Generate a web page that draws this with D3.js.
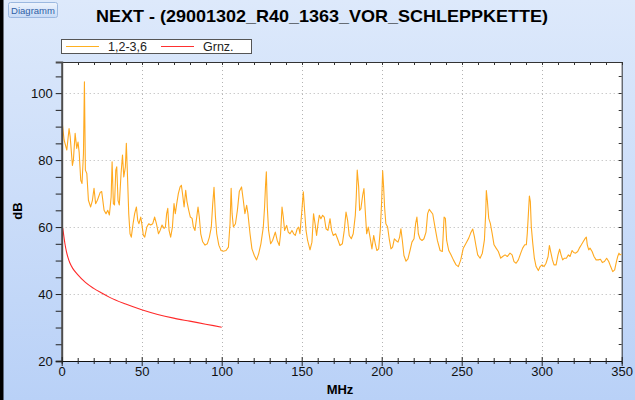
<!DOCTYPE html>
<html>
<head>
<meta charset="utf-8">
<script src="https://cdn.jsdelivr.net/npm/d3@7"></script>
<style>
  body { margin: 0; padding: 0; overflow: hidden; }
  svg { display: block; font-family: "Liberation Sans", Arial, sans-serif; }
</style>
</head>
<body>
<div id="chart"></div>
<script>
var width = 635;
var height = 400;

// measured curve 1,2-3,6 (MHz / dB)
var nextFreq = [0.5, 1.5, 3.2, 4.6, 5.3, 6.7, 7.3, 8.4, 9.4, 10.2, 10.9, 11.9, 12.7, 13.6, 14.2, 14.8, 15.7, 16.7, 18.1, 19.2,
  20.2, 21.2, 22.3, 24, 25, 26.5, 27.7, 28.8, 29.8, 30.9, 31.5, 32.3, 33, 33.8, 34.4, 35.2, 36, 37.1, 38, 38.8,
  39.8, 40.4, 41, 41.9, 42.7, 43.5, 44.6, 45.6, 46.7, 47.5, 48.3, 49.4, 50.2, 51, 51.9, 53.2, 54.4, 55.6, 56.9, 58.1,
  59.2, 60.5, 61.5, 62.7, 64, 64.8, 65.6, 66.3, 67.1, 68.1, 69.2, 70.2, 71, 71.9, 72.9, 74, 74.8, 75.6, 76.5, 77.5,
  78.3, 79.4, 80.4, 81.5, 82.3, 83.3, 84.4, 85.2, 86, 86.9, 88.1, 89.6, 91, 92.3, 93.5, 94.4, 95.2, 96.1, 96.9, 98.2,
  99.6, 101, 102.7, 104.2, 105.2, 105.9, 106.5, 107.3, 108.6, 109.8, 111, 112.4, 113.5, 114.5, 115.6, 116.4, 117.7, 118.9, 120.4, 121.8,
  123.1, 124.5, 126, 126.8, 127.4, 127.9, 128.5, 129.3, 130.6, 131.8, 133.5, 134.7, 136, 136.8, 137.7, 138.5, 139.3, 140.6, 141.6, 142.7,
  143.9, 145, 146, 147.2, 148.1, 148.9, 150.2, 151, 151.8, 152.7, 153.7, 155.2, 156.4, 157.4, 158.5, 159.3, 160.2, 161, 162, 163.1,
  164.1, 165.2, 166.4, 167.7, 168.7, 169.7, 171.2, 172.4, 173.9, 175.4, 176.6, 177.7, 178.7, 179.7, 181, 182.2, 183.5, 184.1, 184.7, 185.6,
  186.2, 187, 188.1, 188.9, 189.7, 190.6, 191.6, 192.7, 193.9, 195, 196, 197, 198.1, 199.1, 200, 200.6, 201.2, 201.8, 202.6, 203.7,
  204.7, 205.8, 206.8, 207.9, 208.9, 210.2, 211.2, 212, 212.9, 213.9, 215.2, 216.4, 217.7, 218.9, 220.2, 221.2, 222, 222.9, 223.9, 225.2,
  226.4, 227.7, 228.7, 229.7, 231.9, 233.3, 234.8, 236.5, 237.9, 239, 239.8, 240.6, 241.9, 243.3, 244.8, 246.5, 247.9, 249.4, 251, 252.7,
  254.4, 255.6, 256.9, 257.9, 259, 260, 261.5, 262.9, 264.2, 265, 265.4, 266, 266.9, 267.9, 269, 270.2, 271.5, 272.9, 274.4, 275.6,
  277.1, 278.5, 280.2, 281.5, 282.7, 284, 285.4, 286.9, 288.1, 289.4, 290.4, 291, 291.7, 292.3, 292.9, 293.5, 294.4, 295.4, 296.5, 297.9,
  299, 300.2, 301.5, 302.7, 304, 304.8, 305.6, 306.7, 307.7, 309, 310.2, 311.2, 312.1, 313.1, 314.2, 315.4, 316.7, 317.7, 319, 320,
  321.2, 322.5, 323.5, 324.8, 326, 327.3, 327.9, 328.5, 329.4, 330.2, 331.5, 332.7, 334, 335.4, 336.7, 337.9, 339.2, 340.6, 341.9, 343.1,
  344.4, 345.6, 346.7, 347.5, 348.3, 349, 350];
var nextDb = [90.4, 86, 83, 89.4, 87, 78.4, 80, 88, 83.5, 85.4, 82.4, 74, 73, 82, 103.4, 77, 76, 68, 66, 68,
  71.6, 67, 68, 70.3, 70.6, 65, 64, 65, 63.6, 69, 79.5, 67, 66.6, 77, 78, 68, 66.6, 76, 81.5, 75,
  78, 85, 77, 64, 58, 57, 61, 64, 66, 62, 61, 63, 60.6, 57.6, 57, 60, 61, 60.6, 61, 63,
  61, 58, 59, 60.6, 59.6, 60, 64, 65.6, 59, 57, 60, 67, 64, 67, 70, 72, 72.5, 69.6, 66, 71,
  67.6, 65, 63, 62.6, 60, 59, 63, 66, 63, 58, 55.6, 54.6, 55, 57, 60, 67, 71.9, 63, 58, 54.6,
  53, 52.8, 53, 54, 61, 71.6, 64, 60, 61, 65, 70.6, 72, 68, 64, 66.5, 64, 58, 53.5, 51.5, 50.2,
  52, 55, 60, 66, 72.5, 76.5, 66, 59, 55, 56, 58.5, 56, 54.5, 58, 66, 63, 59, 60.5, 58.5, 58,
  59, 58, 57.5, 59.5, 60, 58, 65.5, 70.5, 65, 59, 56, 53.2, 55.5, 64, 60.5, 57.5, 61, 63.5, 62.5, 63.5,
  63, 59.5, 59, 62.5, 59, 57.5, 58, 56.5, 54.5, 55, 59, 64.5, 62, 57.5, 56.5, 58, 63.5, 69, 77, 72,
  65, 65.5, 69.5, 71.5, 65, 58, 60, 57, 53.5, 57.5, 55, 53, 53.5, 59, 68, 76.8, 72, 66, 61, 60,
  56.5, 53.5, 54, 56.5, 56, 55.5, 57, 59.5, 56, 51.5, 49.8, 50.5, 53, 55.5, 56.5, 61, 63, 58, 56.5, 56,
  56.5, 58.5, 64, 65.3, 63.9, 60, 56, 53, 52.7, 63, 62.6, 56, 53, 51.7, 50.2, 48.7, 48.2, 50.2, 53.7, 55.2,
  56.7, 58.2, 59.4, 57.2, 54.2, 51.7, 50.7, 52.2, 56.2, 64.1, 70.9, 68.1, 62.6, 61.1, 58.2, 54.7, 53.7, 52.7, 50.7, 51.2,
  51.7, 51.2, 52.2, 51.7, 49.7, 49.2, 50.2, 52.2, 53.7, 54.7, 54.7, 58.2, 64.1, 69.3, 67.6, 60.1, 55.2, 50.7, 48.2, 47,
  48.2, 48.7, 48.2, 49.2, 51.2, 54.5, 52.7, 50.2, 48.7, 48.7, 51.7, 53.4, 51.7, 50.2, 50.7, 50.7, 51.7, 51.2, 53, 52.4,
  52.2, 52.7, 53.7, 54.7, 55.7, 56.7, 57, 54.7, 53.2, 53.7, 52.7, 51.2, 50.2, 50.2, 50.4, 49.4, 49.7, 50.7, 49.7, 48.2,
  46.7, 47.2, 49.7, 51.2, 52.2, 51.7, 52];

// limit curve Grnz.
var limFreq = [0.6, 1, 2, 3, 4, 5, 7, 10, 15, 20, 25, 30, 40, 50, 60, 70, 80, 90, 100];
var limDb = [59.8, 58.5, 55.1, 52.6, 50.8, 49.4, 47.6, 45.8, 43.4, 41.7, 40.3, 39, 37, 35.3, 33.9, 32.8, 31.9, 31, 30.1];

var xLabels = [0, 50, 100, 150, 200, 250, 300, 350];
var yLabels = [20, 40, 60, 80, 100];
var legendNames = ["1,2-3,6", "Grnz."];
var chartTitle = "NEXT - (29001302_R40_1363_VOR_SCHLEPPKETTE)";

var plot = {left: 61.7, right: 621.7, top: 62, bottom: 361};

var x = d3.scaleLinear().domain([0, 350]).range([plot.left, plot.right]);
var y = d3.scaleLinear().domain([20, 109.3]).range([plot.bottom, plot.top]);

var svg = d3.select("#chart").append("svg")
    .attr("width", width)
    .attr("height", height);

var defs = svg.append("defs");
var bg = defs.append("linearGradient").attr("id", "bg")
    .attr("x1", 0).attr("y1", 0).attr("x2", 0).attr("y2", 1);
bg.append("stop").attr("offset", "0%").attr("stop-color", "#dde9fb");
bg.append("stop").attr("offset", "100%").attr("stop-color", "#b9d1f7");

var btn = defs.append("linearGradient").attr("id", "btn")
    .attr("x1", 0).attr("y1", 0).attr("x2", 0).attr("y2", 1);
btn.append("stop").attr("offset", "0%").attr("stop-color", "#eef4fd");
btn.append("stop").attr("offset", "100%").attr("stop-color", "#c7daf6");

defs.append("clipPath").attr("id", "clip")
  .append("rect")
    .attr("x", plot.left).attr("y", plot.top)
    .attr("width", plot.right - plot.left).attr("height", plot.bottom - plot.top);

svg.append("rect").attr("width", width).attr("height", height).attr("fill", "url(#bg)");
svg.append("rect").attr("width", 3.5).attr("height", height).attr("fill", "#000");

// Diagramm button
svg.append("rect")
    .attr("x", 8.5).attr("y", 2.5).attr("width", 49).attr("height", 15).attr("rx", 2)
    .attr("fill", "url(#btn)").attr("stroke", "#9bb8e0");
svg.append("text")
    .attr("x", 33).attr("y", 13.5)
    .attr("text-anchor", "middle")
    .attr("font-size", 9.5)
    .attr("fill", "#2f5fa6")
    .text("Diagramm");

svg.append("text")
    .attr("x", 96).attr("y", 22)
    .attr("font-size", 17)
    .attr("font-weight", "bold")
    .attr("fill", "#000")
    .attr("textLength", 452)
    .attr("lengthAdjust", "spacingAndGlyphs")
    .text(chartTitle);

// legend
var legend = svg.append("g");
legend.append("rect")
    .attr("x", 61.5).attr("y", 39.5).attr("width", 190).attr("height", 14)
    .attr("fill", "#fff").attr("stroke", "#555");
var legColors = ["#ffb020", "#ff3030"];
var legX = [66, 161];
legendNames.forEach(function (name, i) {
    legend.append("line")
        .attr("x1", legX[i]).attr("x2", legX[i] + 33)
        .attr("y1", 46.5).attr("y2", 46.5)
        .attr("stroke", legColors[i]).attr("stroke-width", 1);
    legend.append("text")
        .attr("x", legX[i] + 42).attr("y", 50.5)
        .attr("font-size", 12.5)
        .attr("fill", "#222")
        .text(name);
});

// plot area
svg.append("rect")
    .attr("x", plot.left).attr("y", plot.top)
    .attr("width", plot.right - plot.left).attr("height", plot.bottom - plot.top)
    .attr("fill", "#fff");

// grid
var grid = svg.append("g").attr("stroke", "#b4b4b4").attr("stroke-dasharray", "1,3");
xLabels.slice(1, -1).forEach(function (v) {
    grid.append("line")
        .attr("x1", Math.round(x(v)) + 0.5).attr("x2", Math.round(x(v)) + 0.5)
        .attr("y1", plot.top).attr("y2", plot.bottom);
});
yLabels.slice(1).forEach(function (v) {
    grid.append("line")
        .attr("x1", plot.left).attr("x2", plot.right)
        .attr("y1", Math.round(y(v)) + 0.5).attr("y2", Math.round(y(v)) + 0.5);
});

var minorY = d3.range(20, 109, 5);
var minorX = d3.range(0, 351, 10);

// top and right frame ticks
var frame = svg.append("g").attr("stroke", "#333").attr("stroke-width", 1);
minorX.forEach(function (v) {
    frame.append("line")
        .attr("x1", Math.round(x(v)) + 0.5).attr("x2", Math.round(x(v)) + 0.5)
        .attr("y1", plot.top).attr("y2", plot.top + 3);
});
minorY.forEach(function (v) {
    frame.append("line")
        .attr("x1", plot.right - 3).attr("x2", plot.right)
        .attr("y1", Math.round(y(v)) + 0.5).attr("y2", Math.round(y(v)) + 0.5);
});
frame.append("line").attr("x1", plot.left).attr("x2", plot.right + 0.5)
    .attr("y1", plot.top + 0.5).attr("y2", plot.top + 0.5);
frame.append("line").attr("x1", plot.right + 0.5).attr("x2", plot.right + 0.5)
    .attr("y1", plot.top).attr("y2", plot.bottom);

// curves
var lines = svg.append("g").attr("clip-path", "url(#clip)");
var nextLine = d3.line()
    .x(function (d, i) { return x(nextFreq[i]); })
    .y(function (d) { return y(d); });
lines.append("path")
    .attr("d", nextLine(nextDb))
    .attr("fill", "none")
    .attr("stroke", "#ffa91f")
    .attr("stroke-width", 1.1)
    .attr("stroke-linejoin", "round");

var limLine = d3.line()
    .curve(d3.curveMonotoneX)
    .x(function (d, i) { return x(limFreq[i]); })
    .y(function (d) { return y(d); });
lines.append("path")
    .attr("d", limLine(limDb))
    .attr("fill", "none")
    .attr("stroke", "#ff2a2a")
    .attr("stroke-width", 1.1);

// y axis
var yAxis = svg.append("g")
    .attr("transform", "translate(" + plot.left + ",0)")
    .call(d3.axisLeft(y).tickValues(minorY).tickSize(6)
        .tickFormat(function (d) { return yLabels.indexOf(d) >= 0 ? d : ""; }));
yAxis.select(".domain").attr("stroke", "#4d4d4d").attr("stroke-width", 2);
yAxis.selectAll(".tick line").attr("stroke", "#222");
yAxis.selectAll(".tick text")
    .attr("font-size", 13).attr("fill", "#111")
    .attr("font-family", "Liberation Sans, Arial, sans-serif")
    .attr("x", -9);

// x axis
var xAxis = svg.append("g")
    .attr("transform", "translate(0," + plot.bottom + ")")
    .call(d3.axisBottom(x).tickValues(minorX).tickSize(3)
        .tickFormat(function (d) { return xLabels.indexOf(d) >= 0 ? d : ""; }));
xAxis.select(".domain").attr("stroke", "#111");
xAxis.selectAll(".tick line")
    .attr("stroke", "#222")
    .attr("y1", function (d) { return xLabels.indexOf(d) >= 0 ? -4 : -3; })
    .attr("y2", function (d) { return xLabels.indexOf(d) >= 0 ? 5 : 3; });
xAxis.selectAll(".tick text")
    .attr("font-size", 13).attr("fill", "#111")
    .attr("font-family", "Liberation Sans, Arial, sans-serif")
    .attr("y", 6);

// axis titles
svg.append("text")
    .attr("transform", "translate(22,211) rotate(-90)")
    .attr("text-anchor", "middle")
    .attr("font-size", 13)
    .attr("font-weight", "bold")
    .text("dB");
svg.append("text")
    .attr("x", 340).attr("y", 394)
    .attr("text-anchor", "middle")
    .attr("font-size", 13)
    .attr("font-weight", "bold")
    .text("MHz");
</script>
</body>
</html>
